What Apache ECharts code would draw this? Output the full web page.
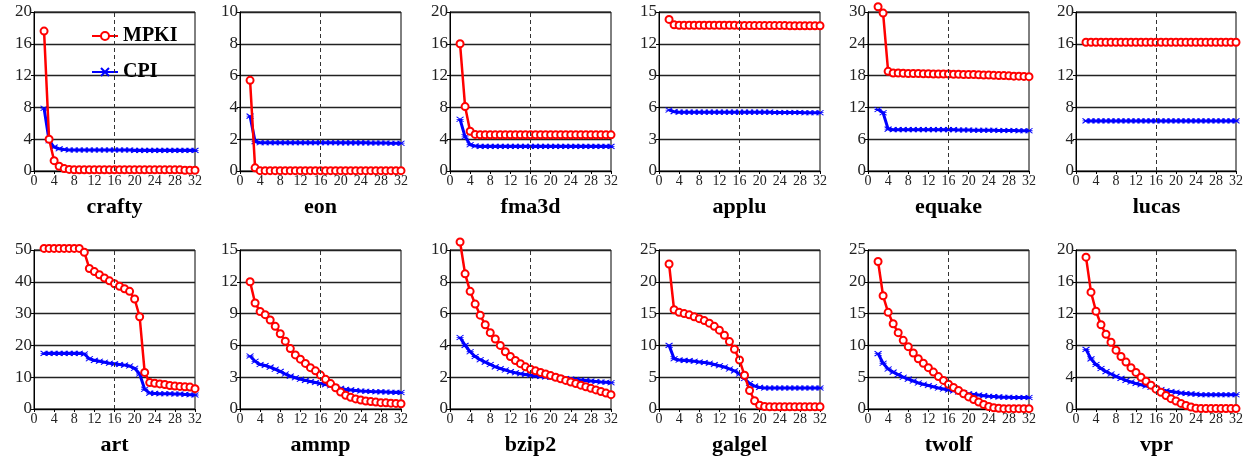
<!DOCTYPE html>
<html>
<head>
<meta charset="utf-8">
<script src="https://cdn.jsdelivr.net/npm/echarts@6/dist/echarts.min.js"></script>
<style>
  html, body { margin: 0; padding: 0; background: #fff; }
  #chart { width: 1246px; height: 458px; }
</style>
</head>
<body>
<div id="chart"></div>
<script>
// cache size (x axis), same for every panel
const sizes = [2,3,4,5,6,7,8,9,10,11,12,13,14,15,16,17,18,19,20,21,22,23,24,25,26,27,28,29,30,31,32];

const names = ["crafty","eon","fma3d","applu","equake","lucas","art","ammp","bzip2","galgel","twolf","vpr"];
const yMax = [20,10,20,15,30,20,50,15,10,25,25,20];
const yStep = [4,2,4,3,6,4,10,3,2,5,5,4];

const craftyMpki = [17.6,4.0,1.3,0.6,0.3,0.2,0.15,0.15,0.15,0.15,0.15,0.15,0.15,0.15,0.15,0.15,0.15,0.15,0.15,0.15,0.15,0.15,0.15,0.15,0.15,0.15,0.15,0.15,0.1,0.1,0.1];
const craftyCpi  = [7.9,3.8,3.0,2.8,2.7,2.65,2.65,2.65,2.65,2.65,2.65,2.65,2.65,2.65,2.65,2.65,2.65,2.65,2.6,2.6,2.6,2.6,2.6,2.6,2.6,2.6,2.6,2.6,2.6,2.6,2.6];
const eonMpki = [5.7,0.2,0.02,0.02,0.02,0.02,0.02,0.02,0.02,0.02,0.02,0.02,0.02,0.02,0.02,0.02,0.02,0.02,0.02,0.02,0.02,0.02,0.02,0.02,0.02,0.02,0.02,0.02,0.02,0.02,0.02];
const eonCpi  = [3.45,1.85,1.78,1.78,1.78,1.78,1.78,1.78,1.78,1.78,1.78,1.78,1.78,1.78,1.78,1.78,1.78,1.78,1.77,1.77,1.77,1.77,1.77,1.77,1.76,1.76,1.76,1.76,1.75,1.75,1.75];
const fma3dMpki = [16.0,8.1,5.0,4.6,4.55,4.55,4.55,4.55,4.55,4.55,4.55,4.55,4.55,4.55,4.55,4.55,4.55,4.55,4.55,4.55,4.55,4.55,4.55,4.55,4.55,4.55,4.55,4.55,4.55,4.55,4.55];
const fma3dCpi  = [6.5,4.3,3.3,3.15,3.1,3.1,3.1,3.1,3.1,3.1,3.1,3.1,3.1,3.1,3.1,3.1,3.1,3.1,3.1,3.1,3.1,3.1,3.1,3.1,3.1,3.1,3.1,3.1,3.1,3.1,3.1];
const appluMpki = [14.3,13.8,13.75,13.75,13.75,13.75,13.75,13.75,13.75,13.75,13.75,13.75,13.75,13.75,13.72,13.72,13.72,13.72,13.72,13.72,13.72,13.72,13.72,13.72,13.7,13.7,13.7,13.7,13.7,13.7,13.7];
const appluCpi  = [5.75,5.6,5.55,5.55,5.55,5.55,5.55,5.55,5.55,5.55,5.55,5.55,5.55,5.55,5.55,5.55,5.55,5.55,5.55,5.55,5.55,5.52,5.52,5.52,5.52,5.52,5.52,5.5,5.5,5.5,5.5];
const equakeMpki = [31.0,29.8,18.8,18.5,18.5,18.45,18.4,18.4,18.4,18.35,18.35,18.3,18.3,18.3,18.3,18.25,18.25,18.2,18.2,18.2,18.15,18.1,18.1,18.05,18.0,18.0,17.95,17.9,17.9,17.85,17.8];
const equakeCpi  = [11.6,11.0,7.9,7.8,7.8,7.8,7.8,7.8,7.8,7.8,7.8,7.8,7.8,7.8,7.8,7.8,7.75,7.75,7.75,7.7,7.7,7.7,7.7,7.7,7.65,7.65,7.65,7.65,7.6,7.6,7.6];
const lucasMpki = [16.2,16.2,16.2,16.2,16.2,16.2,16.2,16.2,16.2,16.2,16.2,16.2,16.2,16.2,16.2,16.2,16.2,16.2,16.2,16.2,16.2,16.2,16.2,16.2,16.2,16.2,16.2,16.2,16.2,16.2,16.2];
const lucasCpi  = [6.3,6.3,6.3,6.3,6.3,6.3,6.3,6.3,6.3,6.3,6.3,6.3,6.3,6.3,6.3,6.3,6.3,6.3,6.3,6.3,6.3,6.3,6.3,6.3,6.3,6.3,6.3,6.3,6.3,6.3,6.3];
const artMpki = [50.5,50.5,50.5,50.5,50.5,50.5,50.5,50.5,49.3,44.2,43.2,42.2,41.2,40.3,39.4,38.6,37.8,37.0,34.6,29.0,11.5,8.3,8.1,7.9,7.7,7.4,7.2,7.1,7.0,6.9,6.4];
const artCpi  = [17.5,17.5,17.5,17.5,17.5,17.5,17.5,17.5,17.3,15.8,15.3,15.0,14.7,14.4,14.2,14.0,13.8,13.5,12.8,11.0,6.2,5.0,4.9,4.8,4.8,4.8,4.7,4.7,4.6,4.5,4.4];
const ammpMpki = [12.0,10.0,9.2,8.9,8.4,7.8,7.1,6.4,5.7,5.1,4.7,4.3,3.9,3.6,3.2,2.8,2.4,2.0,1.6,1.3,1.1,0.95,0.85,0.75,0.7,0.65,0.6,0.58,0.55,0.53,0.5];
const ammpCpi  = [5.0,4.5,4.2,4.1,3.95,3.75,3.55,3.3,3.1,2.95,2.8,2.7,2.6,2.5,2.4,2.3,2.2,2.05,1.95,1.85,1.8,1.75,1.7,1.68,1.65,1.63,1.62,1.6,1.58,1.57,1.55];
const bzip2Mpki = [10.5,8.5,7.4,6.6,5.9,5.3,4.8,4.4,4.0,3.6,3.3,3.05,2.85,2.65,2.5,2.4,2.3,2.2,2.1,2.0,1.9,1.8,1.7,1.6,1.5,1.4,1.3,1.2,1.1,1.0,0.9];
const bzip2Cpi  = [4.5,4.0,3.6,3.3,3.1,2.95,2.8,2.65,2.55,2.45,2.35,2.28,2.22,2.17,2.12,2.08,2.05,2.02,2.0,1.97,1.94,1.91,1.88,1.85,1.82,1.79,1.76,1.73,1.7,1.68,1.65];
const galgelMpki = [22.8,15.6,15.2,15.0,14.8,14.5,14.2,13.9,13.5,13.0,12.4,11.6,10.6,9.4,7.7,5.3,2.9,1.3,0.6,0.4,0.35,0.35,0.35,0.35,0.35,0.35,0.35,0.35,0.35,0.35,0.35];
const galgelCpi  = [10.0,7.9,7.7,7.65,7.6,7.5,7.4,7.3,7.2,7.0,6.8,6.6,6.3,6.0,5.5,4.8,4.0,3.6,3.4,3.3,3.3,3.3,3.3,3.3,3.3,3.3,3.3,3.3,3.3,3.3,3.3];
const twolfMpki = [23.2,17.8,15.2,13.4,12.0,10.8,9.8,8.8,7.9,7.2,6.5,5.8,5.1,4.5,3.9,3.4,2.9,2.4,1.9,1.5,1.1,0.7,0.4,0.2,0.1,0.05,0.05,0.05,0.05,0.05,0.05];
const twolfCpi  = [8.7,7.2,6.3,5.8,5.4,5.0,4.7,4.4,4.1,3.9,3.7,3.5,3.3,3.15,3.0,2.85,2.7,2.55,2.4,2.3,2.2,2.1,2.0,1.95,1.9,1.85,1.85,1.8,1.8,1.8,1.8];
const vprMpki = [19.1,14.7,12.3,10.6,9.4,8.4,7.4,6.6,5.9,5.2,4.6,4.0,3.5,3.0,2.5,2.1,1.7,1.3,1.0,0.7,0.45,0.25,0.1,0.05,0.05,0.05,0.05,0.05,0.05,0.05,0.05];
const vprCpi  = [7.5,6.3,5.6,5.1,4.7,4.4,4.1,3.85,3.6,3.4,3.2,3.05,2.9,2.75,2.6,2.45,2.3,2.2,2.1,2.0,1.95,1.9,1.85,1.8,1.8,1.8,1.8,1.8,1.8,1.8,1.8];

const mpki = [craftyMpki,eonMpki,fma3dMpki,appluMpki,equakeMpki,lucasMpki,artMpki,ammpMpki,bzip2Mpki,galgelMpki,twolfMpki,vprMpki];
const cpi  = [craftyCpi,eonCpi,fma3dCpi,appluCpi,equakeCpi,lucasCpi,artCpi,ammpCpi,bzip2Cpi,galgelCpi,twolfCpi,vprCpi];

// panel layout
const lefts = [34,240,450,659,868,1076];
const tops = [12,250];
const W = 161, H = 159;
const serif = "'Liberation Serif', 'DejaVu Serif', serif";

const chart = echarts.init(document.getElementById("chart"));

const grids = [], xAxes = [], yAxes = [], series = [], texts = [];
names.forEach(function (name, i) {
  const left = lefts[i % 6], top = tops[Math.floor(i / 6)];
  grids.push({ left: left, top: top, width: W, height: H, show: true, borderColor: "#000", borderWidth: 1, backgroundColor: "transparent" });
  xAxes.push({
    type: "value", gridIndex: i, min: 0, max: 32, interval: 4,
    axisLine: { show: true, lineStyle: { color: "#000", width: 1 } },
    axisTick: { show: true, length: 3, lineStyle: { color: "#000" } },
    axisLabel: { fontFamily: serif, fontSize: 14, color: "#222", margin: 3 },
    splitLine: { show: false }
  });
  yAxes.push({
    type: "value", gridIndex: i, min: 0, max: yMax[i], interval: yStep[i],
    axisLine: { show: true, lineStyle: { color: "#000", width: 1 } },
    axisTick: { show: true, length: 3, lineStyle: { color: "#000" } },
    axisLabel: { fontFamily: serif, fontSize: 17, color: "#222", margin: 2 },
    splitLine: { show: true, lineStyle: { color: "#222", width: 1.3 } }
  });
  series.push({
    name: "MPKI", type: "line", xAxisIndex: i, yAxisIndex: i, clip: false,
    data: sizes.map(function (s, k) { return [s, mpki[i][k]]; }),
    symbol: "emptyCircle", symbolSize: 7,
    lineStyle: { color: "#ff0000", width: 2.5 },
    itemStyle: { color: "#ff0000", borderWidth: 1 },
    markLine: {
      silent: true, symbol: "none", label: { show: false },
      lineStyle: { color: "#333", type: [4, 3], width: 1 },
      data: [{ xAxis: 16 }]
    },
    z: 3
  });
  series.push({
    name: "CPI", type: "line", xAxisIndex: i, yAxisIndex: i, clip: false,
    data: sizes.map(function (s, k) { return [s, cpi[i][k]]; }),
    symbol: "path://M0,0L4,4M4,0L0,4M0,2L4,2", symbolSize: [7, 5],
    lineStyle: { color: "#0000ff", width: 3 },
    itemStyle: { color: "#0000ff", borderColor: "#0000ff", borderWidth: 1 },
    z: 2
  });
  texts.push({
    type: "text",
    x: left + W / 2, y: top + H + 36,
    style: { text: name, textAlign: "center", textVerticalAlign: "middle", font: "bold 22px " + serif, fill: "#000" }
  });
});

chart.setOption({
  animation: false,
  grid: grids,
  xAxis: xAxes,
  yAxis: yAxes,
  series: series,
  graphic: texts,
  legend: {
    data: ["MPKI", "CPI"],
    orient: "vertical", left: 86, top: 21,
    itemWidth: 26, itemHeight: 10, itemGap: 16,
    textStyle: { fontFamily: serif, fontWeight: "bold", fontSize: 20, color: "#000" }
  }
});
</script>
</body>
</html>
